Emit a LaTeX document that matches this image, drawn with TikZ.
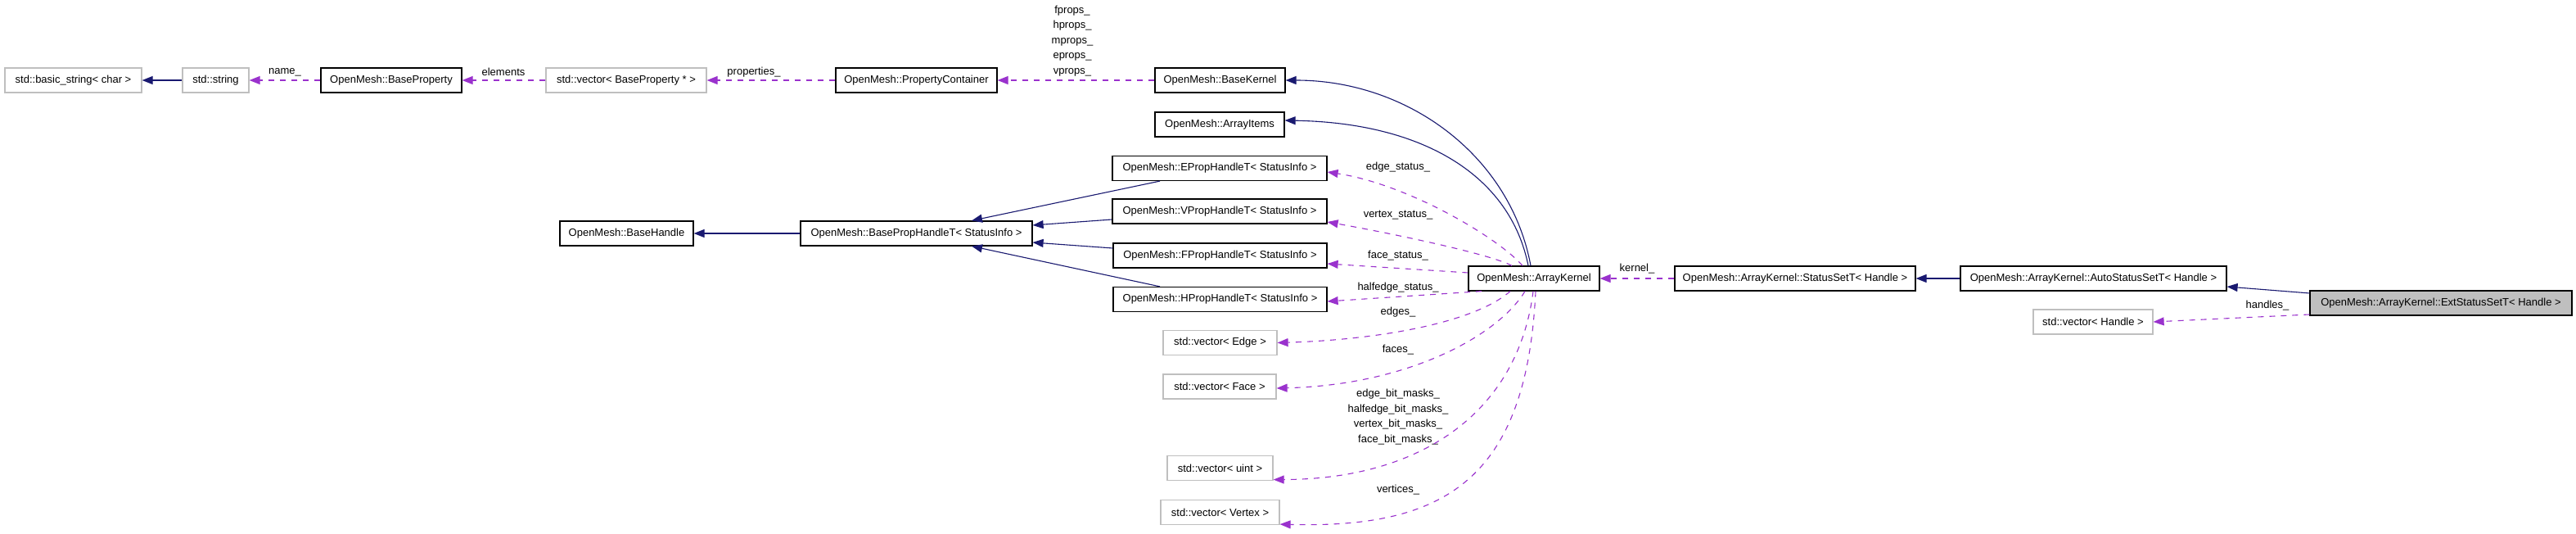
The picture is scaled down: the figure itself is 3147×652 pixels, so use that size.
\documentclass[tikz,border=0pt]{standalone}
\usepackage{fontspec}
\setmainfont{Liberation Sans}
\usetikzlibrary{arrows.meta}
\definecolor{navyc}{HTML}{191970}
\definecolor{orchid}{HTML}{9A32CD}
\definecolor{grayb}{HTML}{BFBFBF}
\begin{document}
\begin{tikzpicture}[x=1pt,y=-1pt,
  cls/.style={draw=black, line width=1.2pt, inner sep=0pt, minimum height=30pt, fill=white, font=\fontsize{13}{15}\selectfont},
  ext/.style={draw=grayb, line width=1.2pt, inner sep=0pt, minimum height=30pt, fill=white, font=\fontsize{13}{15}\selectfont},
  inh/.style={draw=navyc, line width=1.1pt, -{Triangle[length=13pt,width=10pt]}},
  use/.style={draw=orchid, line width=1.1pt, dash pattern=on 7pt off 7pt, -{Triangle[length=13pt,width=10pt]}},
  lbl/.style={inner sep=0pt, align=center, font=\fontsize{13}{18.6}\selectfont}]
\useasboundingbox[fill=white] (0,0) rectangle (3147,652);
% nodes
\node[ext, minimum width=167pt] (bstr) at (89.5,98) {std::basic\_string< char >};
\node[ext, minimum width=81pt] (str) at (263.5,98) {std::string};
\node[cls, minimum width=172pt] (bprop) at (478,98) {OpenMesh::BaseProperty};
\node[ext, minimum width=196pt] (vbprop) at (765,98) {std::vector< BaseProperty * >};
\node[cls, minimum width=197pt] (pcont) at (1119.5,98) {OpenMesh::PropertyContainer};
\node[cls, minimum width=159pt] (bkern) at (1490.5,98) {OpenMesh::BaseKernel};
\node[cls, minimum width=158pt] (aitems) at (1490,152) {OpenMesh::ArrayItems};
\node[cls, minimum width=262pt] (eph) at (1490,205.5) {OpenMesh::EPropHandleT< StatusInfo >};
\node[cls, minimum width=262pt] (vph) at (1490,258) {OpenMesh::VPropHandleT< StatusInfo >};
\node[cls, minimum width=261pt] (fph) at (1490.5,312) {OpenMesh::FPropHandleT< StatusInfo >};
\node[cls, minimum width=261pt] (hph) at (1490.5,365.5) {OpenMesh::HPropHandleT< StatusInfo >};
\node[cls, minimum width=163pt] (bh) at (765.5,285) {OpenMesh::BaseHandle};
\node[cls, minimum width=283pt] (bph) at (1119.5,285) {OpenMesh::BasePropHandleT< StatusInfo >};
\node[cls, minimum width=160pt] (ak) at (1874,340) {OpenMesh::ArrayKernel};
\node[cls, minimum width=294pt] (sst) at (2193,340) {OpenMesh::ArrayKernel::StatusSetT< Handle >};
\node[cls, minimum width=325pt] (asst) at (2557.5,340) {OpenMesh::ArrayKernel::AutoStatusSetT< Handle >};
\node[cls, fill=grayb, minimum width=320pt] (esst) at (2982,370) {OpenMesh::ArrayKernel::ExtStatusSetT< Handle >};
\node[ext, minimum width=146pt] (vh) at (2557,393) {std::vector< Handle >};
\node[ext, minimum width=139pt] (vedge) at (1490.5,418.5) {std::vector< Edge >};
\node[ext, minimum width=138pt] (vface) at (1490,472) {std::vector< Face >};
\node[ext, minimum width=129pt] (vuint) at (1490.5,571.5) {std::vector< uint >};
\node[ext, minimum width=145pt] (vvert) at (1490.5,625.5) {std::vector< Vertex >};
% labels
\node[lbl] (lname) at (348,88) {name\_};
\node[lbl] (lelem) at (615,88) {elements};
\node[lbl] (lprop) at (921,88) {properties\_};
\node[lbl] (lprops) at (1310,50) {fprops\_\\hprops\_\\mprops\_\\eprops\_\\vprops\_};
\node[lbl] (ledge) at (1708,204) {edge\_status\_};
\node[lbl] (lvert) at (1708,263) {vertex\_status\_};
\node[lbl] (lface) at (1708,312) {face\_status\_};
\node[lbl] (lhalf) at (1708,351) {halfedge\_status\_};
\node[lbl] (ledges) at (1708,381) {edges\_};
\node[lbl] (lfaces) at (1708,427) {faces\_};
\node[lbl] (lmasks) at (1708,509) {edge\_bit\_masks\_\\halfedge\_bit\_masks\_\\vertex\_bit\_masks\_\\face\_bit\_masks\_};
\node[lbl] (lverts) at (1708,598) {vertices\_};
\node[lbl] (lkern) at (2000,328) {kernel\_};
\node[lbl] (lhand) at (2770,373) {handles\_};
% connectors
\draw[inh] (str.west) -- (bstr.east);
\draw[use] (bprop.west) -- (str.east);
\draw[use] (vbprop.west) -- (bprop.east);
\draw[use] (pcont.west) -- (vbprop.east);
\draw[use] (bkern.west) -- (pcont.east);
\draw[inh] ([xshift=-4pt]ak.north) .. controls (1845,190) and (1720,98) .. (bkern.east);
\draw[inh] ([xshift=-7pt]ak.north) .. controls (1845,215) and (1740,150) .. ([yshift=5pt]aitems.east);
\draw[use] ([xshift=-14pt]ak.north) .. controls (1830,290) and (1720,225) .. ([yshift=-4.5pt]eph.east);
\draw[use] ([xshift=-27pt]ak.north) .. controls (1820,310) and (1700,285) .. ([yshift=-13pt]vph.east);
\draw[use] ([yshift=7pt]ak.west) -- ([yshift=-10pt]fph.east);
\draw[use] ([xshift=-64pt]ak.south) -- ([yshift=-2.5pt]hph.east);
\draw[use] ([xshift=-29pt]ak.south) .. controls (1800,395) and (1680,415) .. (vedge.east);
\draw[use] ([xshift=-11pt]ak.south) .. controls (1830,410) and (1720,470) .. ([yshift=-2pt]vface.east);
\draw[use] ([xshift=-1pt]ak.south) .. controls (1855,500) and (1740,585) .. ([yshift=1.5pt]vuint.south east);
\draw[use] ([xshift=2pt]ak.south) .. controls (1865,590) and (1760,645) .. ([yshift=1pt]vvert.south east);
\draw[inh] ([xshift=-73pt]eph.south) -- ([xshift=67.5pt]bph.north);
\draw[inh] ([yshift=-10pt]vph.west) -- ([yshift=10pt]bph.east);
\draw[inh] ([yshift=9pt]fph.west) -- ([yshift=-11pt]bph.east);
\draw[inh] ([xshift=-73.5pt]hph.north) -- ([xshift=67.5pt]bph.south);
\draw[inh] (bph.west) -- (bh.east);
\draw[use] (sst.west) -- (ak.east);
\draw[inh] (asst.west) -- (sst.east);
\draw[inh] ([yshift=12pt]esst.west) -- ([yshift=-10pt]asst.east);
\draw[use] ([yshift=-14pt]esst.west) -- (vh.east);
\end{tikzpicture}
\end{document}
